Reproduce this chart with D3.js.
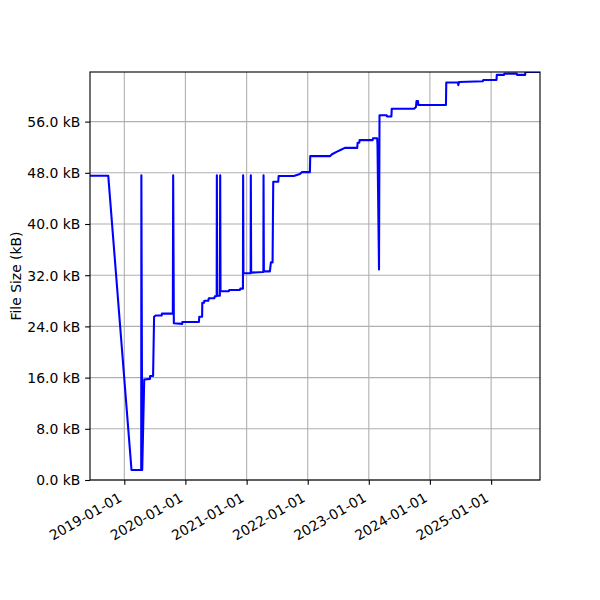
<!DOCTYPE html>
<html>
<head>
<meta charset="utf-8">
<script src="https://cdnjs.cloudflare.com/ajax/libs/d3/7.8.5/d3.min.js"></script>
<style>
  body { margin: 0; background: #fff; }
  svg text { font-family: "DejaVu Sans", sans-serif; }
  .axis text { font-size: 13.9px; fill: #000; font-family: "DejaVu Sans", sans-serif; }
  .axis path, .axis line { stroke: #000; stroke-width: 1.1; }
  .grid line { stroke: #b0b0b0; stroke-width: 1.1; }
</style>
</head>
<body>
<div id="chart"></div>
<script>
// commit dates and file size (kB)
var dates = [
  '2018-06-10', '2018-09-27', '2019-02-13', '2019-04-12', '2019-04-13', '2019-04-18',
  '2019-04-30', '2019-06-03', '2019-06-04', '2019-06-22', '2019-06-28', '2019-07-07',
  '2019-08-12', '2019-08-14', '2019-10-18', '2019-10-20', '2019-10-24', '2019-12-13',
  '2019-12-14', '2020-03-22', '2020-03-24', '2020-04-10', '2020-04-11', '2020-04-22',
  '2020-04-23', '2020-05-17', '2020-05-20', '2020-06-22', '2020-06-25', '2020-07-06',
  '2020-07-07', '2020-07-09', '2020-07-25', '2020-07-27', '2020-07-29', '2020-09-17',
  '2020-09-19', '2020-11-22', '2020-11-24', '2020-12-10', '2020-12-11', '2020-12-13',
  '2021-01-25', '2021-01-26', '2021-01-28', '2021-04-11', '2021-04-12', '2021-04-14',
  '2021-05-20', '2021-05-26', '2021-06-05', '2021-06-09', '2021-07-09', '2021-07-11',
  '2021-10-10', '2021-11-15', '2021-11-27', '2022-01-14', '2022-01-16', '2022-05-14',
  '2022-05-26', '2022-06-25', '2022-07-19', '2022-08-11', '2022-10-24', '2022-10-26',
  '2022-11-05', '2022-11-07', '2023-01-24', '2023-01-26', '2023-02-20', '2023-02-22',
  '2023-03-03', '2023-03-06', '2023-04-18', '2023-04-20', '2023-05-16', '2023-05-18',
  '2023-09-28', '2023-10-10', '2023-10-13', '2023-10-22', '2023-10-24', '2024-04-06',
  '2024-04-08', '2024-06-17', '2024-06-19', '2024-06-23', '2024-11-13', '2024-11-15',
  '2025-02-02', '2025-02-04', '2025-03-19', '2025-03-21', '2025-06-03', '2025-06-05',
  '2025-07-23', '2025-07-25', '2025-10-20'
];
var sizes = [
  47.55, 47.55, 1.56, 1.56, 47.6, 1.56,
  15.7, 15.8, 16.25, 16.25, 25.5, 25.7,
  25.7, 26.0, 26.0, 47.6, 24.5, 24.4,
  24.7, 24.7, 25.5, 25.5, 27.7, 27.7,
  28.0, 28.0, 28.4, 28.4, 28.7, 28.7,
  47.6, 28.8, 28.8, 47.6, 29.5, 29.5,
  29.7, 29.7, 29.9, 29.9, 47.6, 32.3,
  32.3, 47.6, 32.4, 32.5, 47.6, 32.6,
  32.6, 34.0, 34.0, 46.6, 46.6, 47.5,
  47.5, 47.8, 48.1, 48.1, 50.6, 50.6,
  50.9, 51.3, 51.6, 51.9, 51.9, 52.7,
  52.7, 53.1, 53.1, 53.4, 53.4, 52.3,
  32.9, 57.0, 57.0, 56.8, 56.8, 58.0,
  58.0, 58.3, 59.2, 59.2, 58.6, 58.6,
  62.1, 62.1, 61.7, 62.2, 62.3, 62.5,
  62.5, 63.3, 63.3, 63.5, 63.5, 63.3,
  63.3, 63.75, 63.75
];
var yTicks = [0, 8, 16, 24, 32, 40, 48, 56];
var xTickDates = ['2019-01-01', '2020-01-01', '2021-01-01', '2022-01-01', '2023-01-01', '2024-01-01', '2025-01-01'];

var parse = d3.timeParse('%Y-%m-%d');
var data = dates.map(function(d, i) { return { date: parse(d), size: sizes[i] }; });

var width = 600, height = 600;
var margin = { top: 72, right: 60, bottom: 120, left: 90 };
var w = width - margin.left - margin.right;
var h = height - margin.top - margin.bottom;

// matplotlib sizes are in points (dpi 100)
var pt = 100 / 72;

var xScale = d3.scaleTime()
  .domain(d3.extent(data, function(d) { return d.date; }))
  .range([0, w]);
var yScale = d3.scaleLinear()
  .domain([0, d3.max(data, function(d) { return d.size; })])
  .range([h, 0]);

var svg = d3.select('#chart').append('svg')
  .attr('width', width)
  .attr('height', height);

var g = svg.append('g')
  .attr('transform', 'translate(' + margin.left + ',' + margin.top + ')');

// grid
var grid = g.append('g').classed('grid', true);
grid.selectAll('.gx').data(xTickDates.map(parse)).enter()
  .append('line').classed('gx', true)
  .attr('x1', xScale).attr('x2', xScale)
  .attr('y1', 0).attr('y2', h);
grid.selectAll('.gy').data(yTicks).enter()
  .append('line').classed('gy', true)
  .attr('x1', 0).attr('x2', w)
  .attr('y1', yScale).attr('y2', yScale);

// line
g.append('clipPath').attr('id', 'clip')
  .append('rect').attr('width', w).attr('height', h);

var line = d3.line()
  .x(function(d) { return xScale(d.date); })
  .y(function(d) { return yScale(d.size); });

g.append('path')
  .datum(data)
  .attr('clip-path', 'url(#clip)')
  .attr('fill', 'none')
  .attr('stroke', '#0000ff')
  .attr('stroke-width', 1.5 * pt)
  .attr('stroke-linejoin', 'round')
  .attr('stroke-linecap', 'square')
  .attr('d', line);

// axes
var xAxis = g.append('g').classed('axis', true)
  .attr('transform', 'translate(0,' + h + ')')
  .call(d3.axisBottom(xScale)
    .tickValues(xTickDates.map(parse))
    .tickFormat(d3.timeFormat('%Y-%m-%d'))
    .tickSize(3.5 * pt).tickSizeOuter(0));
xAxis.select('.domain').remove();
xAxis.selectAll('text')
  .attr('text-anchor', 'end')
  .attr('x', 0).attr('y', 0).attr('dy', 0)
  .attr('transform', 'translate(-2,20.5) rotate(-30)');

var yAxis = g.append('g').classed('axis', true)
  .call(d3.axisLeft(yScale)
    .tickValues(yTicks)
    .tickFormat(function(d) { return d3.format('.1f')(d) + ' kB'; })
    .tickSize(3.5 * pt).tickSizeOuter(0).tickPadding(3.5 * pt));
yAxis.select('.domain').remove();
yAxis.selectAll('text').attr('dy', '0.35em');

// frame
g.append('rect')
  .attr('width', w).attr('height', h)
  .attr('fill', 'none').attr('stroke', '#000').attr('stroke-width', 0.8 * pt);

svg.append('text')
  .attr('transform', 'translate(21,' + (margin.top + h / 2) + ') rotate(-90)')
  .attr('text-anchor', 'middle')
  .style('font-size', '13.9px')
  .text('File Size (kB)');
</script>
</body>
</html>
